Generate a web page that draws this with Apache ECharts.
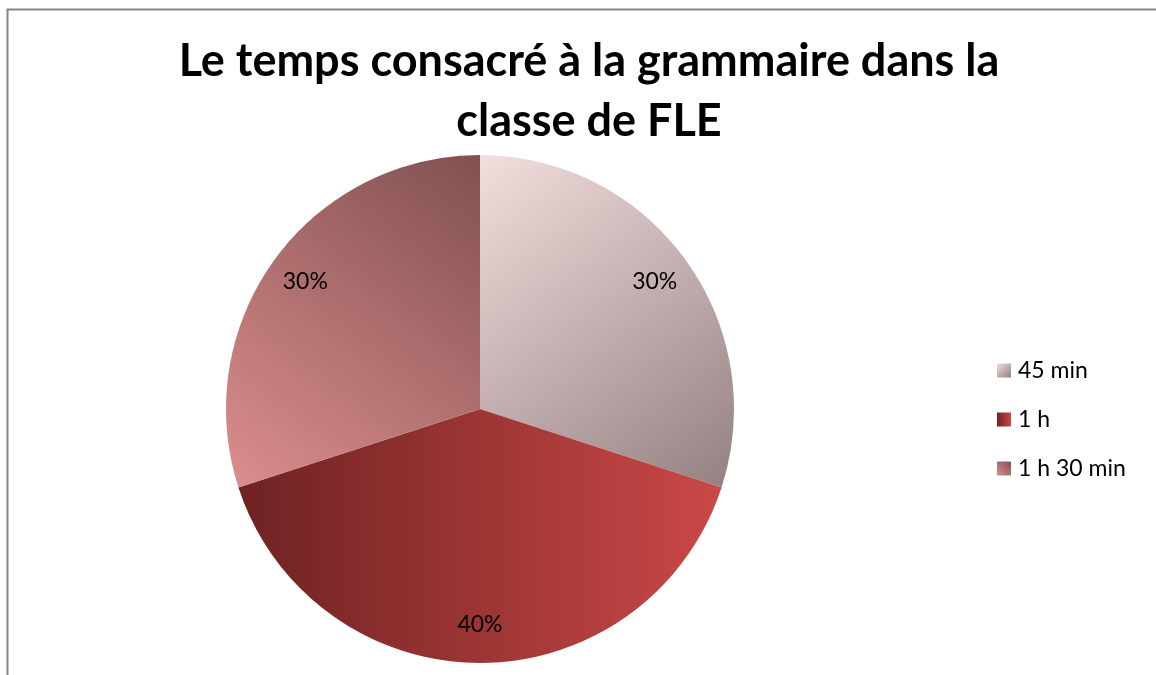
<!DOCTYPE html>
<html>
<head>
<meta charset="utf-8">
<script src="https://cdn.jsdelivr.net/npm/echarts@6/dist/echarts.min.js"></script>
<style>
  html, body { margin: 0; padding: 0; background: #fff; }
  #main { width: 1156px; height: 675px; }
</style>
</head>
<body>
<div id="main"></div>
<script>
// données du graphique
var categories = ['45 min', '1 h', '1 h 30 min'];
var values = [30, 40, 30];
// dégradés de chaque part : [couleur début, couleur fin, direction x, y, x2, y2]
var gradients = [
    ['#f3dede', '#938080', [0, 0, 1, 1]],
    ['#6e2222', '#cb4848', [0, 0, 1, 0]],
    ['#dc8e8e', '#825050', [0, 1, 1, 0]]
];

var chart = echarts.init(document.getElementById('main'), null, { renderer: 'canvas' });

var center = [480, 409];
var radius = 254;

function sliceColor(i) {
    var g = gradients[i];
    return new echarts.graphic.LinearGradient(g[2][0], g[2][1], g[2][2], g[2][3], [
        { offset: 0, color: g[0] },
        { offset: 1, color: g[1] }
    ]);
}

var pieData = categories.map(function (name, i) {
    return { name: name, value: values[i], itemStyle: { color: sliceColor(i) } };
});

var option = {
    backgroundColor: '#fff',
    animation: false,
    title: {
        text: 'Le temps consacré à la grammaire dans la\nclasse de FLE',
        left: 584,
        textAlign: 'center',
        top: 26,
        textStyle: {
            fontFamily: 'Lato',
            fontWeight: 'bold',
            fontSize: 45,
            lineHeight: 60,
            color: '#000'
        }
    },
    legend: {
        orient: 'vertical',
        left: 992,
        top: 354,
        icon: 'rect',
        itemWidth: 14,
        itemHeight: 14,
        itemGap: 26,
        textStyle: {
            fontFamily: 'Lato',
            fontSize: 23,
            lineHeight: 23,
            color: '#000',
            padding: [0, 0, 0, 2]
        },
        data: categories
    },
    graphic: [{
        type: 'rect',
        shape: { x: 7.5, y: 9.5, width: 1200, height: 700 },
        style: { fill: 'none', stroke: '#878787', lineWidth: 2 },
        silent: true
    }],
    series: [
        {
            type: 'pie',
            center: center,
            radius: [0, radius],
            startAngle: 90,
            clockwise: true,
            label: { show: false },
            labelLine: { show: false },
            silent: true,
            data: pieData
        },
        {
            // série transparente qui porte les étiquettes de pourcentage
            type: 'pie',
            center: center,
            radius: [172, radius],
            startAngle: 90,
            clockwise: true,
            silent: true,
            itemStyle: { color: 'rgba(0,0,0,0)' },
            label: {
                show: true,
                position: 'inside',
                formatter: '{c}%',
                fontFamily: 'Lato',
                fontSize: 23,
                color: '#000'
            },
            labelLine: { show: false },
            data: categories.map(function (name, i) {
                return { name: name, value: values[i] };
            })
        }
    ]
};

chart.setOption(option);
</script>
</body>
</html>
